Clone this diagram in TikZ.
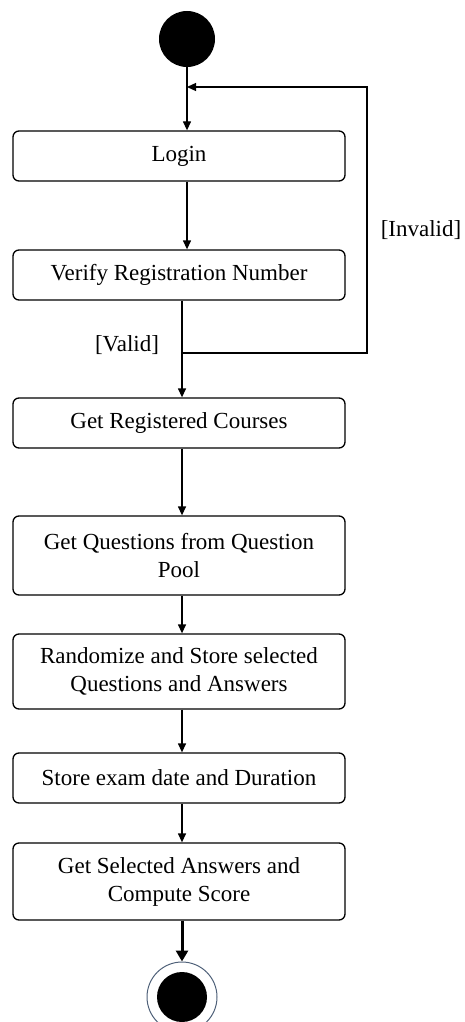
\documentclass[tikz,border=0pt]{standalone}
\usepackage{fontspec}
\setmainfont{Liberation Serif}
\usetikzlibrary{arrows.meta}
\definecolor{ringblue}{HTML}{4F6179}
\begin{document}
\begin{tikzpicture}[x=1pt,y=-1pt,
  activity/.style={draw, line width=1.3pt, rounded corners=6pt,
    minimum width=332pt, align=center, inner sep=0pt,
    font=\fontsize{23}{28}\selectfont},
  flow/.style={line width=1.3pt, -{Triangle[length=9pt,width=8pt]}},
  wire/.style={line width=1.3pt},
  guard/.style={font=\fontsize{23}{28}\selectfont, inner sep=0pt}]
\useasboundingbox (0,0) rectangle (464,1022);

% initial and final states
\node[circle, fill=black, minimum size=56pt, inner sep=0pt] (start) at (187,39) {};
\node[circle, draw=ringblue, line width=1pt, minimum size=70pt, inner sep=0pt] (stop) at (182,997) {};
\node[circle, fill=black, minimum size=50pt, inner sep=0pt] (stopdot) at (stop) {};

% activities
\node[activity, minimum height=50pt] (login)  at (179,156) {Login};
\node[activity, minimum height=50pt] (verify) at (179,275) {Verify Registration Number};
\node[activity, minimum height=50pt] (getreg) at (179,423) {Get Registered Courses};
\node[activity, minimum height=79pt] (getq)   at (179,555.5) {Get Questions from Question\\Pool};
\node[activity, minimum height=75pt] (rand)   at (179,671.5) {Randomize and Store selected\\Questions and Answers};
\node[activity, minimum height=50pt] (store)  at (179,778) {Store exam date and Duration};
\node[activity, minimum height=77pt] (getsel) at (179,881.5) {Get Selected Answers and\\Compute Score};

% guards
\node[guard] (valid)   at (127,345) {[Valid]};
\node[guard] (invalid) at (421,230) {[Invalid]};

% loop-back points
\coordinate (branch) at (stop |- 0,353);
\coordinate (merge)  at (start |- 0,87);
\coordinate (turnA)  at (367,353);
\coordinate (turnB)  at (367,87);

% control flow
\draw[flow] (start) -- (start |- login.north);
\draw[flow] (login.south -| start) -- (verify.north -| start);
\draw[flow] (verify.south -| stop) -- (getreg.north -| stop);
\draw[flow] (branch) -- (turnA) -- (turnB) -- (merge);
\draw[flow] (getreg.south -| stop) -- (getq.north -| stop);
\draw[flow] (getq.south -| stop) -- (rand.north -| stop);
\draw[flow] (rand.south -| stop) -- (store.north -| stop);
\draw[flow] (store.south -| stop) -- (getsel.north -| stop);
\draw[line width=3pt, -{Triangle[length=11pt,width=12pt]}] (getsel.south -| stop) -- (stop.north);
\end{tikzpicture}
\end{document}
